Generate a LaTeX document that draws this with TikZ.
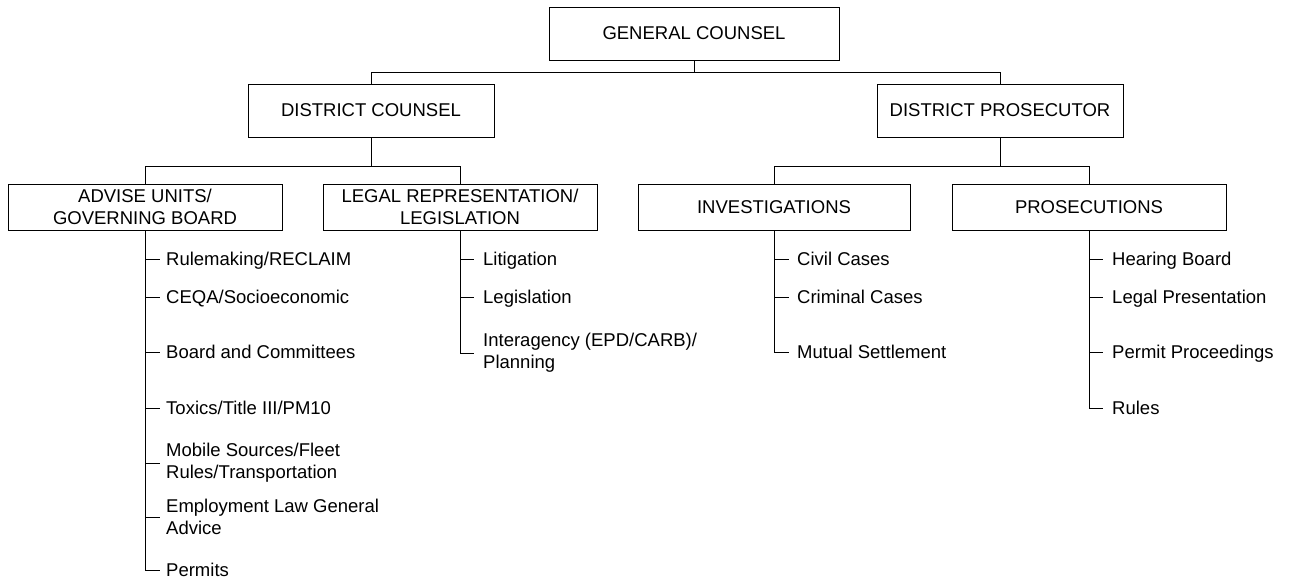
\documentclass[tikz,border=0pt]{standalone}
\usepackage{fontspec}
\setmainfont{Liberation Sans}
\begin{document}
\begin{tikzpicture}[x=1pt,y=-1pt,
  every node/.style={font=\fontsize{18.5}{22}\selectfont},
  unit/.style={draw,line width=1pt,align=center,inner sep=0pt},
  toprow/.style={unit,minimum height=53pt},
  subrow/.style={unit,minimum height=46pt,minimum width=274pt},
  item/.style={anchor=west,inner ysep=0pt,align=left},
  oneline/.style={item,text height=13.3pt,text depth=0pt},
  link/.style={line width=0.9pt}]
\useasboundingbox (0,0) rectangle (1290,579);

% management boxes
\node[toprow,minimum width=290pt] (gc) at (694,33.5) {GENERAL COUNSEL};
\node[toprow,minimum width=246pt] (dc) at (371,110.5) {DISTRICT COUNSEL};
\node[toprow,minimum width=246pt] (dp) at (1000,110.5) {DISTRICT PROSECUTOR};

% units
\node[subrow] (adv) at (145,207) {ADVISE UNITS/\\GOVERNING BOARD};
\node[subrow] (leg) at (460,207) {LEGAL REPRESENTATION/\\LEGISLATION};
\node[subrow,minimum width=272pt] (inv) at (774,207) {INVESTIGATIONS};
\node[subrow] (pro) at (1089,207) {PROSECUTIONS};

% reporting lines
\draw[link] (gc.south) -- ++(0,12) -| (dc.north);
\draw[link] (gc.south) -- ++(0,12) -| (dp.north);
\draw[link] (dc.south) -- ++(0,29) -| (adv.north);
\draw[link] (dc.south) -- ++(0,29) -| (leg.north);
\draw[link] (dp.south) -- ++(0,29) -| (inv.north);
\draw[link] (dp.south) -- ++(0,29) -| (pro.north);

% advise units / governing board
\begin{scope}[every node/.append style={inner xsep=6pt}]
\node[oneline] (a1) at (160,259) {Rulemaking/RECLAIM};
\node[oneline] (a2) at (160,297) {CEQA/Socioeconomic};
\node[oneline] (a3) at (160,352) {Board and Committees};
\node[oneline] (a4) at (160,408) {Toxics/Title III/PM10};
\node[item] (a5) at (160,463) {Mobile Sources/Fleet\\Rules/Transportation};
\node[item] (a6) at (160,517) {Employment Law General\\Advice};
\node[oneline] (a7) at (160,570) {Permits};
\end{scope}
\foreach \n in {a1,a2,a3,a4,a5,a6,a7}
  \draw[link] (adv.south) |- (\n.west);

% legal representation / legislation
\begin{scope}[every node/.append style={inner xsep=9pt}]
\node[oneline] (l1) at (474,259) {Litigation};
\node[oneline] (l2) at (474,297) {Legislation};
\node[item] (l3) at (474,353) {Interagency (EPD/CARB)/\\Planning};
\end{scope}
\foreach \n in {l1,l2,l3}
  \draw[link] (leg.south) |- (\n.west);

% investigations
\begin{scope}[every node/.append style={inner xsep=8pt}]
\node[oneline] (i1) at (789,259) {Civil Cases};
\node[oneline] (i2) at (789,297) {Criminal Cases};
\node[oneline] (i3) at (789,352) {Mutual Settlement};
\end{scope}
\foreach \n in {i1,i2,i3}
  \draw[link] (inv.south) |- (\n.west);

% prosecutions
\begin{scope}[every node/.append style={inner xsep=9pt}]
\node[oneline] (p1) at (1103,259) {Hearing Board};
\node[oneline] (p2) at (1103,297) {Legal Presentation};
\node[oneline] (p3) at (1103,352) {Permit Proceedings};
\node[oneline] (p4) at (1103,408) {Rules};
\end{scope}
\foreach \n in {p1,p2,p3,p4}
  \draw[link] (pro.south) |- (\n.west);
\end{tikzpicture}
\end{document}
